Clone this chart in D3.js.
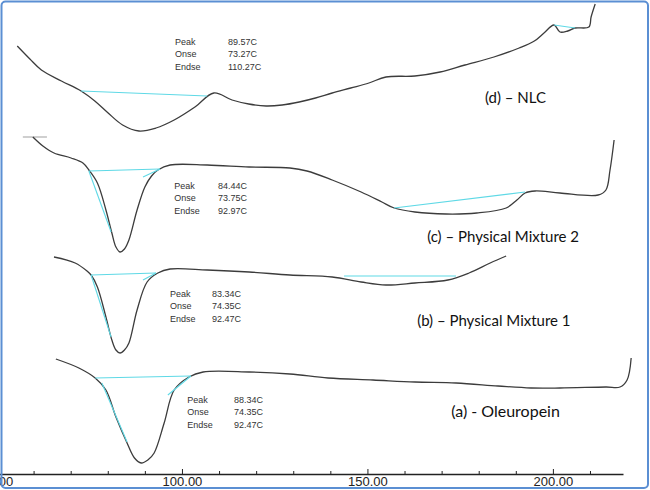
<!DOCTYPE html>
<html>
<head>
<meta charset="utf-8">
<script src="https://cdn.jsdelivr.net/npm/d3@7"></script>
<style>
  html, body { margin: 0; padding: 0; background: #fff; }
  svg { display: block; }
</style>
</head>
<body>
<script>
const width = 650;
const height = 490;

// temperature (°C) vs. heat flow (arbitrary units)
const nlcCurve = [
  [55.6, 429], [59.0, 416], [62.1, 405], [67.5, 394], [72.8, 384], [76.5, 374], [80.1, 362],
  [84.0, 350], [88.4, 344], [93.0, 347], [97.9, 355], [103.5, 368], [108.6, 382],
  [113.5, 375], [118.0, 371], [122.7, 369], [127.0, 370], [131.6, 373], [136.0, 377],
  [140.5, 382], [145.5, 387], [150.4, 392], [155.0, 398], [162.8, 399], [169.6, 403],
  [176.3, 410], [184.1, 418], [190.9, 427], [195.0, 434], [197.6, 442], [200.3, 450],
  [201.9, 443], [204.0, 444], [206.0, 447], [209.7, 448], [210.3, 458], [211.4, 471]
];
const pm2Curve = [
  [59.8, 338], [62.5, 329], [65.5, 322], [70.1, 317], [73.3, 312], [74.9, 305],
  [77.2, 292], [79.5, 265], [81.1, 242], [82.2, 228], [83.3, 223], [84.5, 226], [85.7, 235],
  [87.9, 265], [90.0, 288], [91.8, 299], [93.5, 305], [96.8, 310], [106.8, 310],
  [118.1, 308], [129.1, 307], [133.7, 304], [140.5, 295], [148.3, 283], [153.9, 273],
  [157.2, 267], [162.8, 263], [171.2, 261], [179.5, 262], [187.4, 267], [190.3, 275],
  [192.5, 282], [195.2, 284], [201.9, 282], [212.2, 280], [214.3, 285], [215.4, 305],
  [216.5, 335]
];
const pm1Curve = [
  [65.5, 218], [71.2, 212], [74.4, 204], [75.5, 200], [77.2, 188], [79.5, 158],
  [81.1, 135], [82.2, 125], [83.3, 122], [84.5, 125], [85.7, 132], [87.9, 165], [90.6, 193],
  [93.5, 202], [96.8, 206], [106.8, 205], [118.1, 203], [129.1, 200], [140.5, 198],
  [148.3, 193], [155.0, 190], [162.8, 192], [171.7, 195], [177.4, 202], [183.1, 212],
  [187.4, 219]
];
const oleuropeinCurve = [
  [66.0, 116], [72.2, 107], [76.6, 97], [79.5, 85], [82.2, 58], [85.2, 32],
  [87.2, 17], [89.0, 12], [90.8, 15], [92.5, 22], [95.2, 52], [97.9, 85], [101.9, 98], [105.7, 103],
  [118.1, 103], [129.1, 101], [139.4, 97], [151.5, 95], [162.8, 93], [173.9, 92],
  [185.2, 89], [194.1, 87], [201.9, 87], [214.3, 88], [218.1, 88], [220.0, 95],
  [221.1, 117]
];

// cyan integration baselines and tangents
const nlcBaselines = [
  [[72.8, 384], [106.8, 379]],
  [[200.3, 450], [206.0, 447]]
];
const pm2Baselines = [
  [[74.9, 304], [94.1, 306]],
  [[74.9, 304], [80.9, 243]],
  [[89.5, 298], [94.1, 306]],
  [[157.2, 267], [192.5, 283]]
];
const pm1Baselines = [
  [[75.5, 200], [93.0, 202]],
  [[75.5, 200], [80.9, 138]],
  [[89.5, 195], [93.0, 202]],
  [[143.7, 199], [173.9, 199]]
];
const oleuropeinBaselines = [
  [[76.6, 97], [102.4, 99]],
  [[78.4, 92], [85.2, 33]],
  [[96.2, 80], [102.4, 99]]
];

const seriesNames = [
  "(d) \u2013 NLC",
  "(c) \u2013 Physical Mixture 2",
  "(b) \u2013 Physical Mixture 1",
  "(a) - Oleuropein"
];
const seriesLabelAt = [[181.7, 377], [166.1, 238], [163.4, 154], [172.6, 63]];

const readoutNames = ["Peak", "Onse", "Endse"];
const readoutValues = [
  ["89.57C", "73.27C", "110.27C"],
  ["84.44C", "73.75C", "92.97C"],
  ["83.34C", "74.35C", "92.47C"],
  ["88.34C", "74.35C", "92.47C"]
];
// [name column °C, value column °C, first row a.u.]
const readoutAt = [
  [98.1, 112.4, 434],
  [97.9, 109.7, 290],
  [96.8, 108.1, 182],
  [101.4, 114.0, 76]
];

const stubLine = [[57.1, 338], [63.6, 338]];

const tickTemps = [50, 60, 70, 80, 90, 100, 110, 120, 130, 140, 150, 160, 170, 180, 190, 200, 210];

const svg = d3
  .select("body")
  .append("svg")
  .attr("width", width)
  .attr("height", height);

svg.append("rect")
  .attr("width", width)
  .attr("height", height)
  .attr("fill", "#fff");

const x = d3.scaleLinear().domain([50, 218.9]).range([-3.5, 623]);
const y = d3.scaleLinear().domain([0, 475]).range([475, 0]);

const line = d3.line()
  .x(d => x(d[0]))
  .y(d => y(d[1]))
  .curve(d3.curveCatmullRom.alpha(0.5));

const straight = d3.line()
  .x(d => x(d[0]))
  .y(d => y(d[1]));

const curves = [nlcCurve, pm2Curve, pm1Curve, oleuropeinCurve];
const baselines = [nlcBaselines, pm2Baselines, pm1Baselines, oleuropeinBaselines];

svg.append("path")
  .attr("d", straight(stubLine))
  .attr("fill", "none")
  .attr("stroke", "#b0b0b0")
  .attr("stroke-width", 1.2);

curves.forEach((c, i) => {
  svg.append("path")
    .attr("d", line(c))
    .attr("fill", "none")
    .attr("stroke", "#3c3c3c")
    .attr("stroke-width", 1.3);

  baselines[i].forEach(b => {
    svg.append("path")
      .attr("d", straight(b))
      .attr("fill", "none")
      .attr("stroke", "#5fd9e6")
      .attr("stroke-width", 1.1);
  });

  const r = readoutAt[i];
  readoutNames.forEach((name, j) => {
    svg.append("text")
      .attr("x", x(r[0]))
      .attr("y", y(r[2]) + 3.5 + j * 12.5)
      .attr("font-family", "Liberation Sans, Arial, sans-serif")
      .attr("font-size", 9)
      .attr("fill", "#333")
      .text(name);
    svg.append("text")
      .attr("x", x(r[1]))
      .attr("y", y(r[2]) + 3.5 + j * 12.5)
      .attr("font-family", "Liberation Sans, Arial, sans-serif")
      .attr("font-size", 9)
      .attr("fill", "#333")
      .text(readoutValues[i][j]);
  });

  svg.append("text")
    .attr("x", x(seriesLabelAt[i][0]))
    .attr("y", y(seriesLabelAt[i][1]) + 5)
    .attr("font-family", "Lato, Open Sans, sans-serif")
    .attr("font-size", i === 3 ? 16 : 15)
    .attr("fill", "#111")
    .text(seriesNames[i]);
});

// temperature axis
const axis = svg.append("g")
  .attr("transform", "translate(0,474)")
  .call(
    d3.axisBottom(x)
      .tickValues(tickTemps)
      .tickSizeInner(-3)
      .tickSizeOuter(0)
      .tickPadding(3)
      .tickFormat(d => (d % 50 === 0 ? d.toFixed(2) : ""))
  );

axis.select(".domain").attr("stroke", "#222").attr("stroke-width", 1.3);
axis.selectAll(".tick line")
  .attr("stroke", "#222")
  .attr("y2", d => (d % 50 === 0 ? -5 : -3));
axis.selectAll(".tick text")
  .attr("font-family", "Liberation Sans, Arial, sans-serif")
  .attr("font-size", 13)
  .attr("fill", "#222");

// frame
svg.append("rect")
  .attr("x", 1.5)
  .attr("y", 1.5)
  .attr("width", width - 3.5)
  .attr("height", height - 3.5)
  .attr("rx", 4)
  .attr("fill", "none")
  .attr("stroke", "#5b8fd3")
  .attr("stroke-width", 2);
</script>
</body>
</html>
